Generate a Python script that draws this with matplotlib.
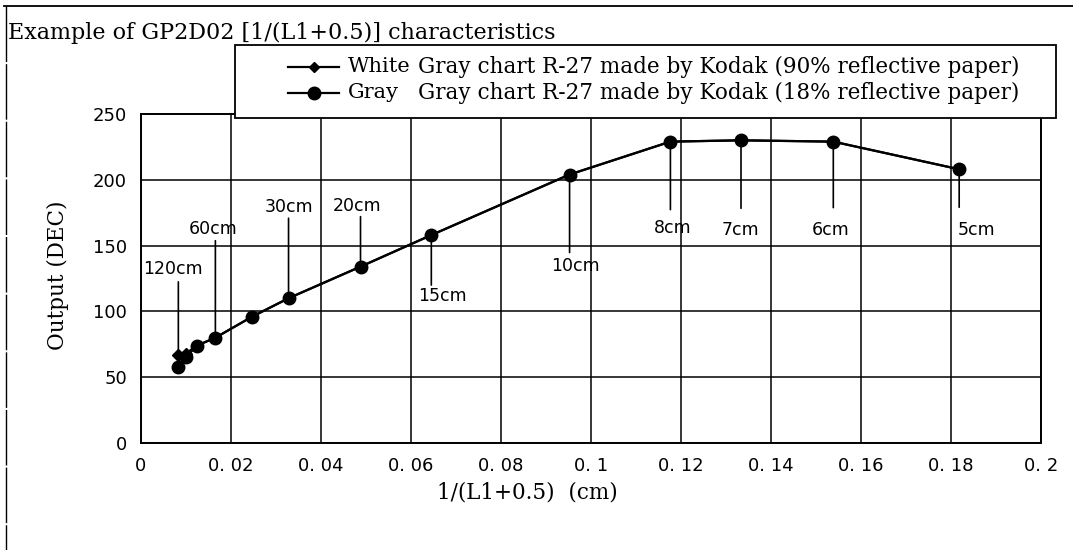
import matplotlib
matplotlib.use("Agg")
import matplotlib.pyplot as plt
from matplotlib.lines import Line2D
from matplotlib.patches import Rectangle

# ---- data ----
distances_cm = [120, 100, 80, 60, 40, 30, 20, 15, 10, 8, 7, 6, 5]
x_inv = [1.0 / (d + 0.5) for d in distances_cm]
gray_out = [58, 65, 74, 80, 96, 110, 134, 158, 204, 229, 230, 229, 208]
white_out = [67, 68, 74, 80, 96, 110, 134, 158, 204, 229, 230, 229, 208]

label_texts = ["120cm", "60cm", "30cm", "20cm", "15cm", "10cm", "8cm", "7cm", "6cm", "5cm"]
label_index = [0, 3, 5, 6, 7, 8, 9, 10, 11, 12]

x_ticks = [0, 0.02, 0.04, 0.06, 0.08, 0.1, 0.12, 0.14, 0.16, 0.18, 0.2]
x_tick_labels = ["0", "0. 02", "0. 04", "0. 06", "0. 08", "0. 1", "0. 12", "0. 14", "0. 16", "0. 18", "0. 2"]
y_ticks = [0, 50, 100, 150, 200, 250]
y_tick_labels = ["0", "50", "100", "150", "200", "250"]

title = "Example of GP2D02 [1/(L1+0.5)] characteristics"
legend_names = ["White", "Gray"]
legend_desc = ["Gray chart R-27 made by Kodak (90% reflective paper)",
               "Gray chart R-27 made by Kodak (18% reflective paper)"]

# ---- styling ----
W, H = 1073, 550
fig = plt.figure(figsize=(W / 100, H / 100), dpi=100)
serif = ["DejaVu Serif"]
narrow = ["DejaVu Sans"]
hand = ["DejaVu Sans"]

def fx(px):
    return px / W

def fy(py):
    return 1 - py / H

ax = fig.add_axes([fx(141), fy(443), fx(1041) - fx(141), fy(114) - fy(443)])
ax.set_xlim(0, 0.2)
ax.set_ylim(0, 250)
ax.set_xticks(x_ticks)
ax.set_xticklabels(x_tick_labels)
ax.set_yticks(y_ticks)
ax.set_yticklabels(y_tick_labels)
ax.tick_params(length=0, pad=10, labelsize=13)
for lab in ax.get_xticklabels() + ax.get_yticklabels():
    lab.set_family(narrow)
ax.grid(True, color="black", lw=1.1)
for s in ax.spines.values():
    s.set_linewidth(1.4)
    s.set_color("black")

ax.plot(x_inv, white_out, color="black", lw=1.6, marker="D", ms=6, zorder=3)
ax.plot(x_inv, gray_out, color="black", lw=1.6, marker="o", ms=9, zorder=4)

# annotation leader lines and labels (offsets in pixels: line length, text dx, dy)
line_len = [73, 97, 80, 50, -50, -78, -68, -68, -66, -38]
text_off = [(-5, 86), (-2, 109), (0, 91), (-3, 61), (11, -61), (6, -91), (2, -86), (-1, -90), (-3, -88), (17, -61)]
for k, idx in enumerate(label_index):
    xv = x_inv[idx]
    yv = white_out[idx] if idx == 0 else gray_out[idx]
    ax.annotate("", xy=(xv, yv), xytext=(0, line_len[k]), textcoords="offset pixels",
                arrowprops=dict(arrowstyle="-", lw=1.2, color="black", shrinkA=0, shrinkB=0),
                zorder=2)
    ax.annotate(label_texts[k], xy=(xv, yv), xytext=text_off[k], textcoords="offset pixels",
                ha="center", va="center", fontsize=12.5, family=hand, zorder=5)

fig.text(fx(58), fy(275), "Output (DEC)", rotation=90, ha="center", va="center",
         family=serif, fontsize=15.5)
fig.text(fx(527), fy(493), "1/(L1+0.5)  (cm)", ha="center", va="center",
         family=serif, fontsize=15.5)

# title and frame
fig.text(fx(8), fy(33), title, ha="left", va="center", family=serif, fontsize=16)
fig.add_artist(Line2D([fx(4), 1], [fy(6), fy(6)], transform=fig.transFigure, color="black", lw=1.3))
fig.add_artist(Line2D([fx(6), fx(6)], [fy(6), 0], transform=fig.transFigure, color="black", lw=1.0,
                      ls=(0, (40, 1.5))))

# legend box
lx0, ly0, lx1, ly1 = 235, 45, 1056, 118
fig.add_artist(Rectangle((fx(lx0), fy(ly1)), fx(lx1) - fx(lx0), fy(ly0) - fy(ly1),
                         transform=fig.transFigure, facecolor="white", edgecolor="black",
                         lw=1.3, zorder=10))
rows_y = [67, 93]
markers = ["D", "o"]
msizes = [5, 9]
for i in range(2):
    y = fy(rows_y[i])
    fig.add_artist(Line2D([fx(288), fx(339)], [y, y], transform=fig.transFigure, color="black",
                          lw=1.6, zorder=11))
    fig.add_artist(Line2D([fx(314)], [y], transform=fig.transFigure, color="black",
                          marker=markers[i], ms=msizes[i], zorder=12))
    fig.text(fx(348), y, legend_names[i], ha="left", va="center", family=serif, fontsize=15,
             zorder=12)
    fig.text(fx(418), y, legend_desc[i], ha="left", va="center", family=serif, fontsize=15.5,
             zorder=12)

fig.savefig("out.png", dpi=100)
